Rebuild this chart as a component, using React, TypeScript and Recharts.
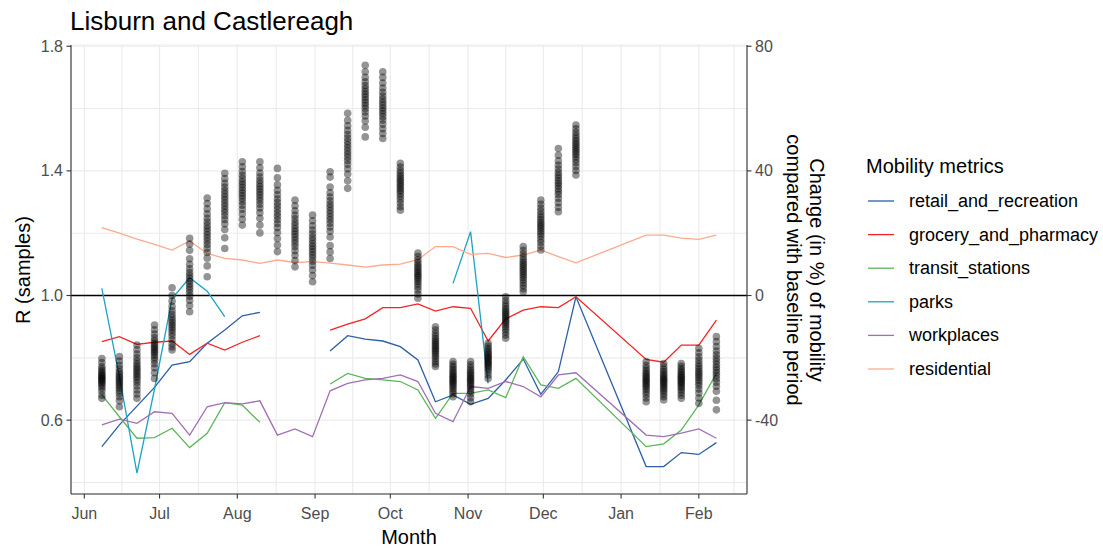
import React from 'react'
import {
  ComposedChart, Line, Scatter, XAxis, YAxis, CartesianGrid, ReferenceLine,
} from 'recharts'

// x values are days since 1 Jun 2020
const monthTicks = [0, 30, 61, 92, 122, 153, 183, 214, 245]
const monthLabels = ['Jun', 'Jul', 'Aug', 'Sep', 'Oct', 'Nov', 'Dec', 'Jan', 'Feb']
const minorMonthTicks = [15, 45.5, 76.5, 107, 137.5, 168, 198.5, 229.5, 259]

const rTicks = [0.6, 1.0, 1.4, 1.8]
const rMinorTicks = [0.4, 0.8, 1.2, 1.6]
const mobilityTicks = [-40, 0, 40, 80]

// one entry per week (Christmas weeks absent)
const weekDays = [7, 14, 21, 28, 35, 42, 49, 56, 63, 70, 77, 84, 91, 98, 105, 112, 119, 126, 133, 140,
  147, 154, 161, 168, 175, 182, 189, 196, 224, 231, 238, 245, 252]

const retail = [-48.5, -41.5, -35.5, -29.5, -22.3, -21.2, -15.3, -11.1, -6.5, -5.4, null, null, null,
  -17.8, -12.9, -14.0, -14.6, -16.4, -20.7, -34.1, -31.9, -34.9, -33.0, -27.1, -20.4, -31.7, -24.4, -0.4,
  -54.9, -54.9, -50.4, -51.0, -47.2]
const grocery = [-14.8, -13.2, -15.7, -15.0, -14.6, -18.9, -15.3, -17.5, -15.0, -12.9, null, null, null,
  -11.1, -9.2, -7.5, -3.9, -3.9, -2.7, -5.0, -3.6, -4.1, -14.6, -7.5, -4.7, -3.6, -3.9, -0.4,
  -20.5, -21.4, -15.9, -15.9, -7.9]
const transit = [-31.9, -38.9, -45.8, -45.6, -42.6, -48.8, -44.2, -34.4, -35.2, -40.7, null, null, null,
  -28.4, -25.0, -26.6, -27.1, -27.6, -30.3, -39.4, -31.4, -31.4, -30.3, -32.8, -19.6, -28.7, -29.8, -26.6,
  -48.5, -47.6, -43.2, -35.1, -25.0]
const parks = [2.3, -26.0, -57.0, -30.0, -1.0, 5.7, 1.4, -6.8, null, null, null, null, null, null,
  null, null, null, null, null, null, 3.9, 20.5, -28.2, null, null, null, null, null,
  null, null, null, null, null]
const workplaces = [-41.5, -39.7, -41.0, -37.3, -37.8, -44.8, -35.7, -34.4, -34.8, -33.8, -44.8, -42.8, -45.3,
  -30.6, -28.2, -27.1, -26.6, -25.5, -27.6, -37.8, -40.5, -29.2, -29.8, -27.6, -29.2, -32.5, -25.5, -24.8,
  -44.8, -45.3, -44.2, -42.8, -45.8]
const residential = [21.8, 20.0, 18.1, 16.4, 14.6, 17.5, 13.5, 11.9, 11.4, 10.3, 11.4, 10.6, 10.9,
  10.4, 9.8, 9.1, 9.8, 10.1, 11.5, 15.7, 15.7, 13.2, 13.5, 12.2, 13.0, 14.6, 12.5, 10.5,
  19.4, 19.4, 18.4, 18.0, 19.4]

// posterior R samples, one list per week
const rSamples = [
  [0.798, 0.785, 0.772, 0.765, 0.758, 0.752, 0.747, 0.742, 0.738, 0.734, 0.730, 0.726, 0.721, 0.716, 0.710, 0.702, 0.693, 0.680, 0.670],
  [0.804, 0.790, 0.776, 0.765, 0.755, 0.748, 0.741, 0.735, 0.729, 0.723, 0.717, 0.710, 0.703, 0.695, 0.686, 0.675, 0.662, 0.643],
  [0.841, 0.826, 0.812, 0.800, 0.790, 0.781, 0.773, 0.766, 0.759, 0.752, 0.745, 0.738, 0.730, 0.721, 0.710, 0.697, 0.684, 0.670],
  [0.905, 0.890, 0.876, 0.864, 0.855, 0.847, 0.840, 0.834, 0.828, 0.822, 0.816, 0.809, 0.801, 0.792, 0.781, 0.768, 0.752, 0.734],
  [1.025, 1.000, 0.982, 0.965, 0.951, 0.940, 0.930, 0.921, 0.913, 0.905, 0.897, 0.889, 0.880, 0.870, 0.858, 0.845, 0.835, 0.825],
  [1.184, 1.165, 1.145, 1.118, 1.100, 1.086, 1.074, 1.064, 1.055, 1.046, 1.037, 1.028, 1.019, 1.009, 0.998, 0.985, 0.968, 0.948],
  [1.313, 1.295, 1.278, 1.262, 1.248, 1.236, 1.225, 1.215, 1.205, 1.195, 1.185, 1.175, 1.164, 1.152, 1.138, 1.120, 1.095, 1.060],
  [1.392, 1.375, 1.360, 1.348, 1.337, 1.327, 1.317, 1.307, 1.297, 1.287, 1.277, 1.267, 1.256, 1.244, 1.230, 1.212, 1.185, 1.151],
  [1.429, 1.413, 1.398, 1.386, 1.375, 1.365, 1.356, 1.347, 1.338, 1.329, 1.320, 1.311, 1.301, 1.290, 1.277, 1.262, 1.245, 1.226],
  [1.429, 1.410, 1.393, 1.380, 1.369, 1.359, 1.350, 1.341, 1.332, 1.323, 1.314, 1.304, 1.293, 1.281, 1.266, 1.248, 1.226, 1.201],
  [1.408, 1.378, 1.355, 1.338, 1.323, 1.310, 1.298, 1.287, 1.276, 1.265, 1.254, 1.243, 1.231, 1.218, 1.202, 1.183, 1.162, 1.141],
  [1.306, 1.288, 1.272, 1.258, 1.246, 1.235, 1.225, 1.215, 1.206, 1.197, 1.188, 1.178, 1.168, 1.157, 1.144, 1.129, 1.112, 1.092],
  [1.258, 1.240, 1.224, 1.210, 1.198, 1.187, 1.177, 1.167, 1.158, 1.149, 1.140, 1.131, 1.121, 1.110, 1.097, 1.082, 1.064, 1.044],
  [1.397, 1.380, 1.348, 1.330, 1.316, 1.304, 1.293, 1.283, 1.273, 1.263, 1.253, 1.243, 1.232, 1.220, 1.206, 1.188, 1.160, 1.140, 1.119],
  [1.585, 1.562, 1.545, 1.530, 1.517, 1.505, 1.494, 1.484, 1.474, 1.464, 1.454, 1.444, 1.433, 1.421, 1.407, 1.390, 1.368, 1.344],
  [1.739, 1.718, 1.700, 1.686, 1.674, 1.664, 1.655, 1.646, 1.637, 1.628, 1.619, 1.610, 1.600, 1.589, 1.576, 1.560, 1.540, 1.509],
  [1.718, 1.700, 1.682, 1.666, 1.652, 1.640, 1.630, 1.620, 1.611, 1.602, 1.593, 1.584, 1.574, 1.563, 1.550, 1.535, 1.520, 1.504],
  [1.424, 1.412, 1.401, 1.392, 1.384, 1.377, 1.370, 1.363, 1.356, 1.349, 1.342, 1.335, 1.327, 1.318, 1.308, 1.297, 1.285, 1.274],
  [1.136, 1.125, 1.115, 1.106, 1.098, 1.091, 1.084, 1.077, 1.071, 1.065, 1.059, 1.052, 1.045, 1.037, 1.028, 1.018, 1.005, 0.991],
  [0.900, 0.889, 0.879, 0.870, 0.862, 0.855, 0.849, 0.843, 0.837, 0.831, 0.825, 0.819, 0.812, 0.805, 0.797, 0.788, 0.780, 0.772],
  [0.788, 0.779, 0.771, 0.764, 0.757, 0.751, 0.745, 0.740, 0.735, 0.730, 0.725, 0.720, 0.714, 0.708, 0.701, 0.693, 0.685, 0.675],
  [0.788, 0.778, 0.769, 0.761, 0.754, 0.748, 0.742, 0.736, 0.731, 0.726, 0.720, 0.714, 0.708, 0.701, 0.693, 0.684, 0.672, 0.659],
  [0.847, 0.838, 0.830, 0.823, 0.817, 0.811, 0.806, 0.801, 0.796, 0.791, 0.786, 0.781, 0.776, 0.770, 0.763, 0.755, 0.745, 0.734],
  [0.996, 0.984, 0.974, 0.965, 0.957, 0.950, 0.944, 0.938, 0.932, 0.926, 0.920, 0.914, 0.907, 0.900, 0.892, 0.883, 0.873, 0.863],
  [1.157, 1.145, 1.134, 1.124, 1.115, 1.107, 1.100, 1.093, 1.086, 1.079, 1.072, 1.065, 1.058, 1.050, 1.041, 1.032, 1.022, 1.012],
  [1.306, 1.293, 1.281, 1.270, 1.260, 1.251, 1.243, 1.235, 1.228, 1.221, 1.214, 1.206, 1.198, 1.190, 1.180, 1.170, 1.158, 1.146],
  [1.472, 1.450, 1.432, 1.418, 1.406, 1.395, 1.386, 1.377, 1.368, 1.360, 1.352, 1.343, 1.334, 1.324, 1.312, 1.298, 1.283, 1.269],
  [1.547, 1.535, 1.524, 1.514, 1.505, 1.497, 1.489, 1.482, 1.475, 1.468, 1.461, 1.453, 1.445, 1.436, 1.426, 1.414, 1.401, 1.387],
  [0.788, 0.776, 0.767, 0.759, 0.752, 0.746, 0.740, 0.734, 0.729, 0.724, 0.718, 0.712, 0.706, 0.699, 0.691, 0.682, 0.671, 0.659],
  [0.782, 0.772, 0.763, 0.756, 0.749, 0.743, 0.737, 0.732, 0.727, 0.722, 0.717, 0.711, 0.705, 0.699, 0.692, 0.684, 0.675, 0.665],
  [0.782, 0.773, 0.765, 0.758, 0.752, 0.746, 0.741, 0.736, 0.731, 0.726, 0.721, 0.716, 0.710, 0.704, 0.697, 0.689, 0.680, 0.670],
  [0.831, 0.816, 0.803, 0.792, 0.782, 0.773, 0.765, 0.757, 0.750, 0.743, 0.736, 0.728, 0.720, 0.711, 0.700, 0.687, 0.671, 0.654],
  [0.868, 0.852, 0.836, 0.822, 0.810, 0.799, 0.789, 0.779, 0.770, 0.761, 0.752, 0.743, 0.733, 0.722, 0.709, 0.693, 0.664, 0.633],
]

const series = [
  { key: 'retail_and_recreation', values: retail, color: '#2B5FA6' },
  { key: 'grocery_and_pharmacy', values: grocery, color: '#F52323' },
  { key: 'transit_stations', values: transit, color: '#5BB65B' },
  { key: 'parks', values: parks, color: '#1CA3C4' },
  { key: 'workplaces', values: workplaces, color: '#A16FB6' },
  { key: 'residential', values: residential, color: '#FCAA8E' },
]

const rows = weekDays.map((day, i) => {
  const row: Record<string, number | null> = { day }
  series.forEach(s => { row[s.key] = s.values[i] })
  return row
})
const points = weekDays.flatMap((day, i) => rSamples[i].map(r => ({ day, r })))

const rDomain = [0.363, 1.804]
const mobDomain = [(rDomain[0] - 1) * 100, (rDomain[1] - 1) * 100]
const xDomain = [-5.3, 264.2]

const FONT = '"Liberation Sans", Arial, sans-serif'
const axisGray = '#333333'
const tickGray = '#4D4D4D'
const grid = '#EBEBEB'

const isMajor = (v: number, list: number[]) => list.some(t => Math.abs(t - v) < 1e-6)

function XTick({ x, y, payload }: any) {
  const i = monthTicks.indexOf(payload.value)
  if (i < 0) return <g />
  return (
    <g>
      <line x1={x} x2={x} y1={y} y2={y + 4.5} stroke={axisGray} strokeWidth={1.1} />
      <text x={x} y={y + 25} textAnchor="middle" fill={tickGray} fontSize={16} fontFamily={FONT}>{monthLabels[i]}</text>
    </g>
  )
}

function LeftTick({ x, y, payload }: any) {
  if (!isMajor(payload.value, rTicks)) return <g />
  return (
    <g>
      <line x1={x - 4.5} x2={x} y1={y} y2={y} stroke={axisGray} strokeWidth={1.1} />
      <text x={x - 8} y={y + 5.5} textAnchor="end" fill={tickGray} fontSize={16} fontFamily={FONT}>{payload.value.toFixed(1)}</text>
    </g>
  )
}

function RightTick({ x, y, payload }: any) {
  return (
    <g>
      <line x1={x} x2={x + 4.5} y1={y} y2={y} stroke={axisGray} strokeWidth={1.1} />
      <text x={x + 8} y={y + 5.5} textAnchor="start" fill={tickGray} fontSize={16} fontFamily={FONT}>{payload.value}</text>
    </g>
  )
}

const Dot = (p: any) => (
  <circle cx={p.cx} cy={p.cy} r={3.8} fill="#000" fillOpacity={0.42} stroke="none" />
)

export default function App() {
  return (
    <div style={{ position: 'absolute', left: 0, top: 0, width: 1103, height: 551, background: '#fff', fontFamily: FONT }}>
      <ComposedChart width={1103} height={551} data={rows}
        margin={{ top: 45, right: 316, bottom: 27, left: 31 }}>
        <CartesianGrid xAxisId="x" yAxisId="r" stroke={grid} strokeWidth={1.1} />
        <XAxis xAxisId="x" dataKey="day" type="number" domain={xDomain} allowDataOverflow
          ticks={[...monthTicks, ...minorMonthTicks].sort((a, b) => a - b)} interval={0}
          tick={<XTick />} tickLine={false} tickSize={0} tickMargin={0} height={30}
          axisLine={{ stroke: axisGray, strokeWidth: 1.1 }} />
        <XAxis xAxisId="top" orientation="top" type="number" domain={xDomain} allowDataOverflow
          ticks={[]} tick={false} tickLine={false} height={0}
          axisLine={{ stroke: axisGray, strokeWidth: 1.1 }} />
        <YAxis yAxisId="r" orientation="left" dataKey="r" type="number" domain={rDomain} allowDataOverflow
          ticks={[...rMinorTicks, ...rTicks].sort((a, b) => a - b)} interval={0}
          tick={<LeftTick />} tickLine={false} tickSize={0} tickMargin={0} width={40}
          axisLine={{ stroke: axisGray, strokeWidth: 1.1 }} />
        <YAxis yAxisId="mob" orientation="right" type="number" domain={mobDomain} allowDataOverflow
          ticks={mobilityTicks} interval={0}
          tick={<RightTick />} tickLine={false} tickSize={0} tickMargin={0} width={40}
          axisLine={{ stroke: axisGray, strokeWidth: 1.1 }} />
        <Scatter xAxisId="x" yAxisId="r" data={points} dataKey="r" shape={Dot} isAnimationActive={false} />
        <ReferenceLine xAxisId="x" yAxisId="r" y={1} stroke="#000" strokeWidth={1.3} />
        {series.map(s => (
          <Line key={s.key} xAxisId="x" yAxisId="mob" dataKey={s.key} stroke={s.color} strokeWidth={1.3}
            dot={false} activeDot={false} isAnimationActive={false} />
        ))}
      </ComposedChart>
      <svg width={1103} height={551} style={{ position: 'absolute', left: 0, top: 0, pointerEvents: 'none' }}
        fontFamily={FONT}>
        <text x={70} y={30} fontSize={26} fill="#000">Lisburn and Castlereagh</text>
        <text transform="translate(30,270) rotate(-90)" textAnchor="middle" fontSize={20} fill="#000">R (samples)</text>
        <text x={409} y={544} textAnchor="middle" fontSize={20} fill="#000">Month</text>
        <g transform="translate(810,270) rotate(90)">
          <text x={0} y={0} textAnchor="middle" fontSize={20} fill="#000">Change (in %) of mobility</text>
        </g>
        <g transform="translate(787,270) rotate(90)">
          <text x={0} y={0} textAnchor="middle" fontSize={20} fill="#000">compared with baseline period</text>
        </g>
        <text x={866} y={173} fontSize={20} fill="#000">Mobility metrics</text>
        {series.map((s, i) => (
          <g key={s.key}>
            <line x1={868} x2={894} y1={201 + i * 33.6} y2={201 + i * 33.6} stroke={s.color} strokeWidth={1.3} />
            <text x={909} y={207 + i * 33.6} fontSize={18} fill="#000">{s.key}</text>
          </g>
        ))}
      </svg>
    </div>
  )
}
